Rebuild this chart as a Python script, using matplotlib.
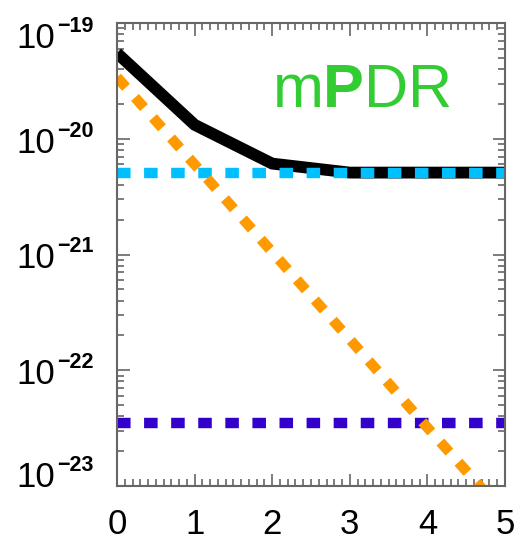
import numpy as np
import matplotlib
matplotlib.use('Agg')
from matplotlib import pyplot as plt
from matplotlib.ticker import LogLocator, MultipleLocator, NullFormatter

plt.rcParams['font.family'] = 'Liberation Sans'
plt.rcParams['mathtext.fontset'] = 'custom'
plt.rcParams['mathtext.rm'] = 'Liberation Sans'
plt.rcParams['mathtext.bf'] = 'Liberation Sans:bold'
plt.rcParams['mathtext.default'] = 'rm'

# values
x = [0, 1, 2, 3, 4, 5]
total = [5.5e-20, 1.32e-20, 6.1e-21, 5.1e-21, 5.1e-21, 5.1e-21]
x_dec = [0, 1, 2, 3, 4, 5]
decay = [3.4e-20, 6.0e-21, 1.05e-21, 1.85e-22, 3.2e-23, 5.7e-24]
x_flat = [0, 5]
floor_hi = [5.1e-21, 5.1e-21]
floor_lo = [3.5e-23, 3.5e-23]
decades = [-19, -20, -21, -22, -23]

fig = plt.figure(figsize=(5.16, 5.46), dpi=100)
ax = fig.add_axes([117/516, 60/546, 388/516, 463/546])

lw = 7.5
dash = (1.3, 1.3)
ax.plot(x_flat, floor_lo, color='#3300cc', lw=lw, dashes=dash, dash_capstyle='butt')
ax.plot(x, total, color='black', lw=8.5, solid_capstyle='butt', solid_joinstyle='miter')
ax.plot(x_flat, floor_hi, color='#00bfff', lw=lw, dashes=dash, dash_capstyle='butt')
ax.plot(x_dec, decay, color='#ff9900', lw=lw, dashes=dash, dash_capstyle='butt')

ax.set_yscale('log')
ax.set_xlim(0, 5)
ax.set_ylim(1e-23, 1e-19)

ax.xaxis.set_major_locator(MultipleLocator(1))
ax.xaxis.set_minor_locator(MultipleLocator(0.1))
ax.yaxis.set_major_locator(LogLocator(base=10, numticks=10))
ax.yaxis.set_minor_locator(LogLocator(base=10, subs=np.arange(2, 10), numticks=20))
ax.yaxis.set_major_formatter(NullFormatter())
ax.yaxis.set_minor_formatter(NullFormatter())

ax.tick_params(which='both', direction='in', top=True, right=True, color='#666666', width=1.2)
ax.tick_params(which='major', length=9, labelsize=25)
ax.tick_params(which='minor', length=5)
ax.tick_params(axis='x', pad=16)
for s in ax.spines.values():
    s.set_color('#666666')
    s.set_linewidth(1.5)

# y labels drawn as 10 with a small bold exponent, IDL style
ytr = ax.get_yaxis_transform()
for d in decades:
    shift = 0
    if d == decades[0]:
        shift = -11
    elif d == decades[-1]:
        shift = 13
    ax.annotate('10', xy=(0, 10.0**d), xycoords=ytr, xytext=(-62, -14 + shift),
                textcoords='offset pixels', ha='right', va='baseline', fontsize=25,
                annotation_clip=False)
    ax.annotate('\u2212%d' % abs(d), xy=(0, 10.0**d), xycoords=ytr, xytext=(-60, 2 + shift),
                textcoords='offset pixels', ha='left', va='baseline', fontsize=15.5,
                fontweight='bold', annotation_clip=False)

ax.text(2.0, 1.87e-20, r'm$\mathbf{P}$DR', color='#33cc33', fontsize=44, ha='left', va='baseline')

fig.savefig('out.png', dpi=100)
